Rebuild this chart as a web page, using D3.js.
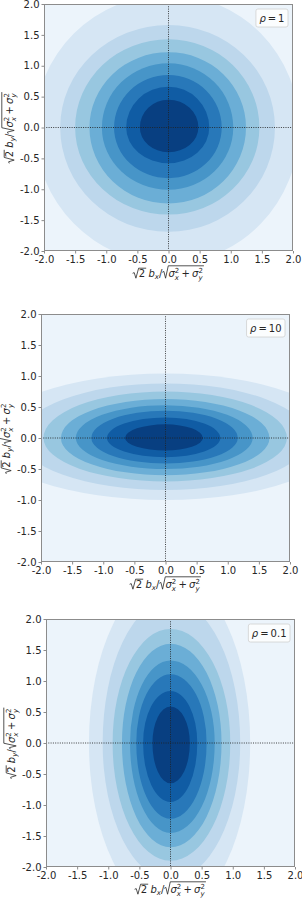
<!DOCTYPE html>
<html><head><meta charset="utf-8">
<script src="https://cdn.jsdelivr.net/npm/d3@7"></script>
<style>body{margin:0;background:#fff} svg{display:block} text{font-family:"DejaVu Sans",sans-serif}</style>
</head><body><svg id="c" width="302" height="899"></svg>
<script>
// ---- data ----
const tickValues = [-2.0, -1.5, -1.0, -0.5, 0.0, 0.5, 1.0, 1.5, 2.0];
const rhoLabels = ["1", "10", "0.1"];
// contour level boundaries, outermost -> innermost, extent from centre (data units)
const rho1Right  = [2.10, 1.71, 1.46, 1.245, 1.04, 0.855, 0.655, 0.48];
const rho1Top    = [2.15, 1.66, 1.43, 1.22, 1.04, 0.85, 0.66, 0.45];
const rho1Left   = [2.15, 1.74, 1.50, 1.27, 1.07, 0.875, 0.68, 0.46];
const rho1Bottom = [2.20, 1.69, 1.41, 1.23, 1.01, 0.82, 0.58, 0.40];

const rho10Right  = [2.80, 2.30, 1.95, 1.67, 1.40, 1.16, 0.88, 0.60];
const rho10Top    = [1.04, 0.88, 0.75, 0.63, 0.53, 0.44, 0.33, 0.22];
const rho10Left   = [2.85, 2.33, 1.96, 1.68, 1.44, 1.19, 0.94, 0.65];
const rho10Bottom = [1.00, 0.84, 0.70, 0.60, 0.50, 0.41, 0.31, 0.20];

const rho01Right  = [1.28, 1.12, 0.96, 0.82, 0.71, 0.58, 0.43, 0.31];
const rho01Top    = [2.70, 2.30, 1.84, 1.60, 1.33, 1.11, 0.84, 0.59];
const rho01Left   = [1.31, 1.09, 0.93, 0.78, 0.65, 0.55, 0.44, 0.29];
const rho01Bottom = [2.70, 2.20, 1.90, 1.68, 1.45, 1.22, 0.95, 0.65];

// ---- style ----
const bluesAnchors = ["#f7fbff","#deebf7","#c6dbef","#9ecae1","#6baed6","#4292c6","#2171b5","#08519c","#08306b"];
const blues = d3.piecewise(d3.interpolateRgb, bluesAnchors);
const nBands = 9;
const bandColor = d3.range(nBands).map(i => blues((i + 0.5) / nBands));
const spineColor = "#8c8c8c", textColor = "#262626";

const panels = [
  {box:[44, 4, 293, 251], rho: rhoLabels[0], R: rho1Right, T: rho1Top, L: rho1Left, B: rho1Bottom},
  {box:[41, 314, 290, 562], rho: rhoLabels[1], R: rho10Right, T: rho10Top, L: rho10Left, B: rho10Bottom},
  {box:[46, 619, 295, 867], rho: rhoLabels[2], R: rho01Right, T: rho01Top, L: rho01Left, B: rho01Bottom}
];

const svg = d3.select("#c");

function mathLabel(g, sub, fs) {
  const inner = g.append("g");
  let x = 0;
  const put = (s, o = {}) => {
    const t = inner.append("text").attr("x", x).attr("y", o.dy || 0)
      .attr("font-size", fs * (o.sc || 1)).attr("font-style", o.it ? "italic" : null)
      .attr("fill", textColor).text(s);
    const w = t.node().getComputedTextLength();
    if (!o.na) x += w;
    return w;
  };
  const rad = (h, fn) => {
    const x0 = x; x += fs * 0.62;
    fn();
    const x1 = x + fs * 0.1;
    inner.append("path")
      .attr("d", `M${x0},${-h*0.42} L${x0+fs*0.16},${-h*0.5} L${x0+fs*0.33},${fs*0.12} L${x0+fs*0.6},${-h} L${x1},${-h}`)
      .attr("fill", "none").attr("stroke", textColor).attr("stroke-width", 0.8);
    x = x1 + fs * 0.05;
  };
  const pair = (ss) => {
    put("σ", {it: true});
    const x0 = x;
    const w1 = put("2", {sc: 0.7, dy: -fs * 0.42, na: true});
    const w2 = put(ss, {it: true, sc: 0.7, dy: fs * 0.25, na: true});
    x = x0 + Math.max(w1, w2);
  };
  rad(fs * 0.88, () => put("2"));
  x += fs * 0.17;
  put("b", {it: true});
  put(sub, {it: true, sc: 0.7, dy: fs * 0.22});
  put("/");
  rad(fs * 1.12, () => { pair("x"); x += fs * 0.22; put("+"); x += fs * 0.22; pair("y"); });
  inner.attr("transform", `translate(${-x / 2},0)`);
}

panels.forEach((p, pi) => {
  const [x0, y0, x1, y1] = p.box;
  const x = d3.scaleLinear().domain([-2, 2]).range([x0, x1]);
  const y = d3.scaleLinear().domain([-2, 2]).range([y1, y0]);
  const g = svg.append("g");
  const clipId = "clip" + pi;
  svg.append("defs").append("clipPath").attr("id", clipId)
    .append("rect").attr("x", x0).attr("y", y0).attr("width", x1 - x0).attr("height", y1 - y0);
  const cg = g.append("g").attr("clip-path", `url(#${clipId})`);
  cg.append("rect").attr("x", x0).attr("y", y0).attr("width", x1 - x0).attr("height", y1 - y0)
    .attr("fill", bandColor[0]);
  const cx = x(0), cy = y(0);
  p.R.forEach((r, i) => {
    const xr = x(r), yt = y(p.T[i]), xl = x(-p.L[i]), yb = y(-p.B[i]);
    const d = `M${xr},${cy} A${xr-cx},${cy-yt} 0 0 0 ${cx},${yt} A${cx-xl},${cy-yt} 0 0 0 ${xl},${cy} ` +
              `A${cx-xl},${yb-cy} 0 0 0 ${cx},${yb} A${xr-cx},${yb-cy} 0 0 0 ${xr},${cy} Z`;
    cg.append("path").attr("d", d).attr("fill", bandColor[i + 1]);
  });
  // dotted zero lines
  cg.append("line").attr("x1", x(0)).attr("x2", x(0)).attr("y1", y0).attr("y2", y1)
    .attr("stroke", "#222").attr("stroke-width", 1).attr("stroke-dasharray", "1,1.3").attr("opacity", 0.85);
  cg.append("line").attr("x1", x0).attr("x2", x1).attr("y1", y(0)).attr("y2", y(0))
    .attr("stroke", "#222").attr("stroke-width", 1).attr("stroke-dasharray", "1,1.3").attr("opacity", 0.85);

  const fmt = d => d.toFixed(1);
  const ax = g.append("g").attr("transform", `translate(0,${y1})`)
    .call(d3.axisBottom(x).tickValues(tickValues).tickFormat(fmt).tickSize(2.5).tickPadding(2));
  const ay = g.append("g").attr("transform", `translate(${x0},0)`)
    .call(d3.axisLeft(y).tickValues(tickValues).tickFormat(fmt).tickSize(2.5).tickPadding(2));
  [ax, ay].forEach(a => {
    a.select(".domain").remove();
    a.selectAll(".tick line").attr("stroke", spineColor);
    a.selectAll(".tick text").attr("font-size", 10).attr("fill", textColor)
      .attr("font-family", '"DejaVu Sans",sans-serif');
  });
  g.append("rect").attr("x", x0 + 0.5).attr("y", y0 + 0.5).attr("width", x1 - x0 - 1).attr("height", y1 - y0 - 1)
    .attr("fill", "none").attr("stroke", spineColor).attr("stroke-width", 1);

  // legend
  const lg = g.append("g");
  const lt = lg.append("text").attr("font-size", 10).attr("fill", textColor);
  lt.append("tspan").attr("font-style", "italic").text("ρ");
  lt.append("tspan").text("\u2009=\u2009" + p.rho);
  const tw = lt.node().getComputedTextLength();
  const bw = tw + 7, bh = 18;
  const bx = x1 - 5 - bw, by = y0 + 5;
  lg.insert("rect", "text").attr("x", bx).attr("y", by).attr("width", bw).attr("height", bh)
    .attr("rx", 2).attr("fill", "#fff").attr("fill-opacity", 0.8).attr("stroke", "#d0d0d0").attr("stroke-width", 0.8);
  lt.attr("x", bx + 3.5).attr("y", by + 12.6);

  // axis labels
  const xl = g.append("g").attr("transform", `translate(${(x0 + x1) / 2},${y1 + 26})`);
  mathLabel(xl, "x", 10);
  const yl = g.append("g").attr("transform", `translate(${x0 - 31},${(y0 + y1) / 2}) rotate(-90)`);
  mathLabel(yl, "y", 10);
});
</script></body></html>
